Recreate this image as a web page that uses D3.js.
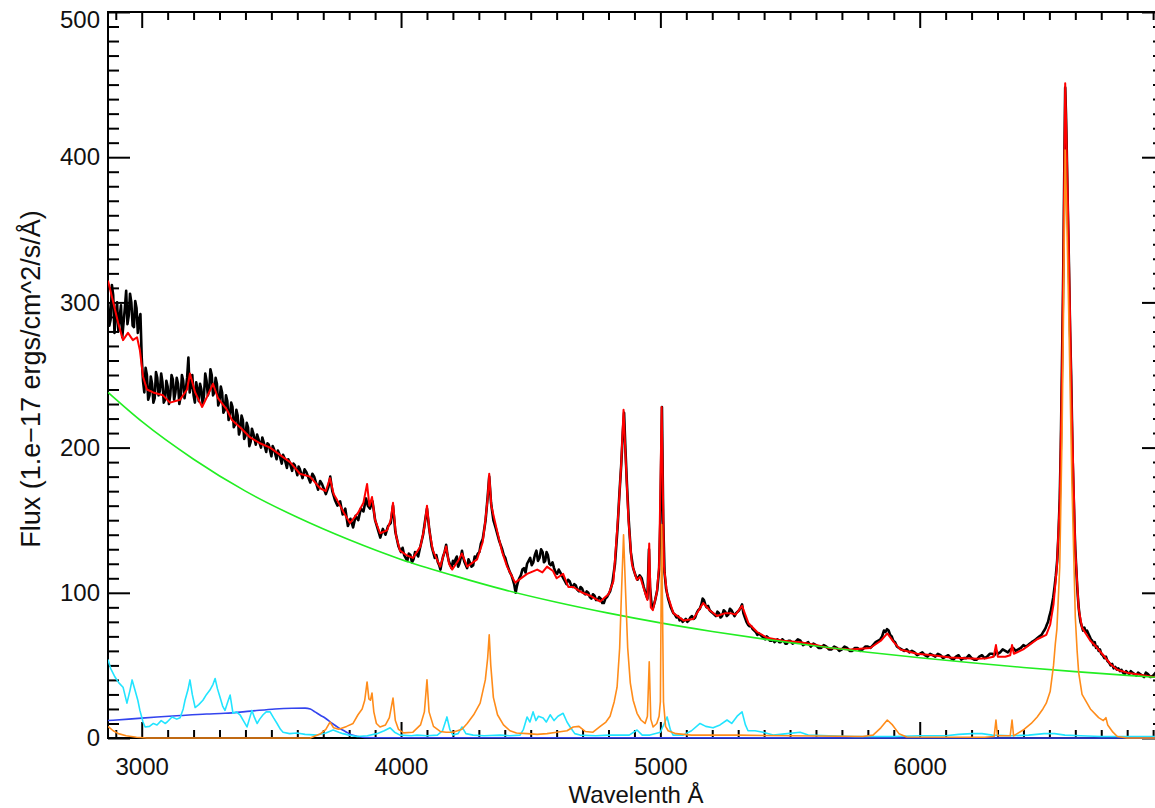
<!DOCTYPE html>
<html><head><meta charset="utf-8">
<script src="https://cdn.jsdelivr.net/npm/d3@7"></script>
<style>
html,body{margin:0;padding:0;background:#fff;}
text{font-family:"Liberation Sans",Arial,Helvetica,sans-serif;fill:#111;}
</style></head>
<body>
<script>
// ---------- data (wavelength Å, flux 1e-17) ----------
const xMajorTicks = [3000, 4000, 5000, 6000];
const yMajorTicks = [0, 100, 200, 300, 400, 500];
const xTitle = "Wavelenth Å";
const yTitle = "Flux (1.e\u221217 ergs/cm^2/s/Å)";

const observed = [[2870,300],[2875,284],[2880,288],[2885,312],[2890,305],[2895,279],[2900,292],[2905,300],[2910,280],[2915,290],[2920,298],[2925,276],[2930,286],[2935,296],[2940,308],[2945,285],[2950,291],[2955,306],[2960,300],[2965,284],[2970,283],[2975,301],[2980,296],[2985,279],[2990,288],[2995,292],[3000,262],[3005,246],[3010,238],[3015,255],[3020,250],[3025,233],[3030,236],[3035,249],[3040,244],[3045,231],[3050,234],[3055,252],[3060,248],[3065,236],[3070,239],[3075,251],[3080,245],[3085,231],[3090,233],[3095,246],[3100,242],[3105,230],[3110,236],[3115,250],[3120,247],[3125,233],[3130,238],[3135,248],[3140,244],[3145,230],[3150,235],[3155,250],[3160,246],[3165,234],[3170,240],[3175,248],[3180,262],[3185,238],[3190,243],[3195,250],[3200,236],[3205,231],[3210,245],[3215,240],[3220,232],[3225,244],[3230,240],[3235,230],[3240,236],[3245,251],[3250,246],[3255,236],[3260,239],[3265,254],[3270,250],[3275,236],[3280,238],[3285,248],[3290,244],[3295,229],[3300,232],[3305,242],[3310,238],[3315,224],[3320,226],[3325,236],[3330,232],[3335,219],[3340,222],[3345,231],[3350,228],[3355,214],[3360,216],[3365,226],[3370,222],[3375,209],[3380,212],[3385,222],[3390,219],[3395,206],[3400,208],[3405,217],[3410,214],[3415,201],[3420,204],[3425,213],[3430,210],[3440,202],[3445,209],[3450,206],[3460,200],[3465,207],[3470,204],[3480,197],[3485,203],[3490,202],[3500,194],[3505,201],[3510,199],[3520,192],[3525,198],[3530,196],[3540,189],[3545,195],[3550,193],[3560,186],[3565,192],[3570,190],[3580,184],[3585,189],[3590,188],[3600,181],[3605,187],[3610,185],[3620,179],[3628,185],[3635,183],[3650,176],[3658,182],[3665,180],[3680,171],[3688,177],[3695,175],[3710,168],[3720,173],[3727,180],[3735,170],[3745,164],[3755,160],[3765,163],[3775,154],[3785,158],[3795,146],[3805,151],[3815,145],[3825,153],[3835,150],[3845,158],[3855,156],[3865,165],[3872,160],[3880,158],[3890,163],[3900,150],[3910,144],[3920,138],[3930,144],[3940,140],[3950,146],[3960,148],[3969,160],[3978,142],[3990,132],[4000,128],[4006,131],[4012,126],[4018,124],[4024,122],[4030,127],[4036,126],[4042,121],[4048,123],[4054,128],[4060,127],[4066,125],[4072,130],[4085,140],[4093,150],[4100,158],[4108,145],[4118,132],[4124,128],[4130,124],[4136,126],[4142,121],[4147,119],[4152,116],[4157,121],[4162,125],[4168,128],[4174,133],[4179,126],[4184,122],[4190,119],[4195,117],[4200,122],[4205,120],[4210,123],[4215,125],[4220,118],[4225,120],[4230,124],[4235,129],[4240,124],[4245,121],[4250,119],[4255,117],[4260,123],[4265,121],[4272,118],[4278,119],[4284,125],[4290,124],[4296,127],[4302,128],[4308,134],[4315,137],[4326,150],[4334,166],[4340,180],[4347,162],[4356,150],[4366,144],[4372,140],[4378,136],[4384,133],[4390,130],[4396,126],[4402,124],[4408,120],[4414,117],[4420,114],[4426,112],[4431,109],[4436,106],[4442,100],[4446,104],[4450,107],[4456,110],[4462,112],[4468,116],[4474,117],[4480,114],[4486,120],[4492,122],[4498,124],[4504,119],[4510,121],[4516,126],[4522,129],[4528,122],[4534,124],[4540,130],[4546,128],[4551,121],[4556,122],[4561,128],[4566,126],[4572,120],[4578,119],[4584,121],[4590,117],[4596,114],[4602,113],[4608,116],[4614,114],[4620,112],[4626,110],[4632,108],[4638,106],[4644,109],[4650,108],[4656,105],[4662,104],[4668,106],[4674,105],[4680,102],[4686,101],[4692,104],[4698,103],[4704,100],[4710,99],[4716,101],[4722,100],[4728,97],[4734,96],[4740,99],[4746,98],[4752,95],[4758,95],[4764,97],[4770,96],[4776,93],[4782,93],[4788,96],[4794,97],[4800,99],[4806,101],[4815,107],[4825,120],[4835,145],[4842,168],[4849,188],[4855,210],[4860,224],[4865,200],[4871,175],[4878,150],[4886,128],[4895,117],[4904,112],[4912,109],[4920,112],[4928,110],[4936,104],[4944,99],[4950,96],[4956,130],[4960,104],[4966,92],[4972,90],[4980,95],[4988,102],[4995,116],[5000,150],[5006,228],[5011,150],[5016,114],[5022,103],[5030,96],[5035,93],[5040,90],[5045,88],[5050,86],[5056,85],[5062,83],[5068,84],[5074,81],[5080,82],[5086,80],[5092,81],[5098,82],[5104,80],[5110,81],[5116,83],[5122,84],[5128,82],[5134,83],[5140,86],[5146,88],[5152,89],[5158,92],[5163,96],[5168,95],[5173,92],[5178,90],[5184,91],[5190,88],[5196,87],[5202,86],[5208,85],[5214,84],[5220,87],[5226,86],[5232,83],[5238,84],[5244,88],[5250,87],[5256,84],[5262,85],[5268,89],[5274,88],[5280,86],[5286,84],[5292,86],[5298,87],[5304,88],[5310,90],[5315,92],[5320,86],[5326,83],[5332,80],[5338,78],[5344,77],[5350,77],[5356,75],[5362,74],[5368,73],[5374,71],[5380,72],[5386,71],[5392,70],[5398,69],[5404,68],[5410,70],[5416,69],[5422,67],[5428,67],[5434,68],[5440,66],[5446,67],[5452,68],[5458,66],[5464,66],[5470,68],[5476,67],[5482,65],[5488,65],[5494,67],[5500,67],[5510,65],[5520,66],[5530,68],[5540,67],[5550,64],[5560,65],[5570,66],[5580,63],[5590,65],[5600,64],[5610,62],[5620,62],[5630,64],[5640,63],[5650,61],[5660,61],[5670,63],[5680,62],[5690,60],[5700,61],[5710,63],[5720,62],[5730,60],[5740,60],[5750,62],[5760,62],[5770,60],[5780,61],[5790,63],[5800,63],[5810,62],[5820,64],[5830,66],[5840,67],[5848,68],[5855,70],[5862,74],[5868,73],[5874,75],[5880,74],[5886,71],[5892,70],[5898,67],[5905,66],[5912,63],[5920,62],[5930,61],[5940,60],[5950,61],[5960,59],[5970,60],[5980,59],[5990,57],[6000,58],[6010,59],[6020,57],[6030,56],[6040,58],[6050,57],[6060,56],[6070,58],[6080,57],[6090,55],[6100,56],[6110,57],[6120,55],[6130,54],[6140,56],[6150,57],[6160,54],[6170,55],[6180,55],[6190,57],[6200,55],[6210,54],[6220,54],[6230,56],[6240,57],[6250,55],[6260,56],[6270,58],[6280,58],[6288,57],[6295,60],[6302,58],[6310,59],[6320,61],[6330,60],[6340,59],[6350,61],[6360,62],[6370,60],[6380,61],[6390,62],[6400,64],[6410,63],[6418,64],[6425,65],[6432,66],[6440,67],[6448,68],[6455,69],[6462,70],[6470,71],[6476,73],[6480,74],[6486,76],[6490,78],[6495,80],[6500,84],[6505,87],[6510,92],[6515,97],[6520,104],[6525,112],[6530,122],[6535,140],[6540,165],[6544,200],[6548,250],[6552,300],[6555,345],[6558,400],[6561,448],[6564,430],[6567,405],[6570,375],[6574,340],[6577,310],[6580,280],[6584,250],[6587,220],[6590,190],[6594,165],[6597,145],[6600,130],[6604,116],[6607,105],[6610,97],[6613,90],[6616,85],[6620,80],[6625,77],[6630,74],[6635,76],[6640,73],[6645,74],[6650,72],[6655,70],[6660,68],[6665,67],[6670,64],[6675,66],[6680,62],[6685,63],[6690,60],[6695,61],[6700,58],[6706,57],[6712,55],[6718,56],[6724,53],[6730,52],[6736,50],[6742,51],[6748,48],[6754,49],[6760,47],[6766,48],[6772,46],[6778,47],[6784,45],[6790,44],[6796,46],[6802,45],[6808,44],[6814,46],[6820,45],[6828,44],[6835,43],[6842,45],[6850,44],[6858,43],[6865,42],[6872,45],[6880,44],[6890,42],[6900,43],[6910,45],[6920,44],[6930,42],[6942,43]];

const model = [[2870,315],[2889,301],[2909,286],[2928,274],[2947,279],[2966,274],[2982,276],[2993,267],[3005,249],[3020,240],[3044,238],[3082,236],[3109,231],[3148,233],[3175,240],[3186,251],[3206,238],[3233,228],[3252,235],[3275,244],[3294,234],[3329,226],[3348,219],[3379,214],[3418,207],[3456,203],[3495,200],[3533,195],[3572,190],[3610,182],[3649,180],[3688,172],[3710,170],[3726,179],[3740,168],[3753,164],[3780,155],[3803,148],[3834,155],[3855,162],[3869,175],[3878,160],[3888,166],[3900,150],[3919,141],[3946,143],[3960,150],[3969,162],[3980,140],[3996,129],[4020,126],[4046,124],[4075,132],[4090,145],[4100,160],[4110,142],[4123,129],[4151,118],[4174,132],[4185,120],[4197,116],[4220,122],[4235,127],[4255,118],[4293,123],[4315,135],[4324,148],[4334,165],[4340,182],[4348,160],[4370,143],[4390,128],[4409,118],[4440,107],[4486,113],[4525,116],[4545,114],[4563,118],[4586,115],[4600,110],[4625,113],[4645,104],[4664,104],[4700,100],[4729,98],[4768,94],[4800,99],[4819,108],[4838,155],[4849,189],[4858,226],[4867,189],[4877,150],[4890,120],[4909,109],[4922,111],[4941,100],[4950,95],[4957,134],[4963,90],[4971,88],[4986,100],[4995,118],[5005,228],[5014,118],[5025,100],[5050,86],[5089,81],[5127,82],[5165,93],[5190,88],[5219,84],[5250,86],[5269,86],[5290,85],[5315,91],[5340,79],[5373,73],[5412,69],[5473,67],[5539,66],[5600,64],[5650,62],[5732,61],[5809,62],[5850,67],[5875,72],[5900,66],[5925,61],[5990,58],[6050,57],[6118,55.5],[6180,55],[6222,54.5],[6260,55],[6285,56],[6294,64],[6301,56],[6330,56],[6349,57],[6356,64],[6363,58],[6399,61],[6453,68],[6488,71],[6503,78],[6516,92],[6529,118],[6540,163],[6549,255],[6555,345],[6561,451],[6567,406],[6574,344],[6587,221],[6600,129],[6613,89],[6626,76],[6658,67],[6680,63],[6708,57],[6735,51],[6762,47],[6800,45],[6850,43.5],[6900,42],[6942,42]];

const powerLaw = [[2870,238],[3000,218],[3200,192],[3400,170],[3600,152],[3800,136.5],[4000,123],[4200,112],[4400,102],[4600,93.5],[4800,86],[5000,79.3],[5200,73.4],[5400,68.1],[5600,63.4],[5800,59.1],[6000,55.3],[6200,51.8],[6400,48.6],[6600,45.7],[6800,43.1],[6942,41.4]];

const balmerCont = [[2870,12],[2950,13],[3059,14.5],[3150,15.5],[3250,16.5],[3321,17],[3420,18.5],[3514,20],[3580,20.5],[3630,20.6],[3650,20],[3668,18],[3690,15.5],[3707,13.8],[3735,10],[3760,7],[3785,4.5],[3811,2],[3835,1],[3860,0.3],[3900,0.2],[6942,0]];

const feII = [[2870,54],[2880,48],[2897,42],[2912,38],[2928,35],[2943,24],[2955,33],[2963,40],[2974,33],[2985,26],[2993,19],[3005,11],[3013,7.6],[3030,8],[3045,10],[3059,9],[3075,12],[3090,10],[3098,11],[3117,14.5],[3135,13],[3148,14],[3160,20],[3167,26],[3178,33],[3186,40],[3195,30],[3206,21],[3220,23],[3236,26],[3250,30],[3263,33],[3275,37],[3283,41],[3292,34],[3302,28],[3312,22],[3321,19],[3332,25],[3341,29.6],[3352,17],[3365,18],[3379,16],[3392,12],[3406,7.6],[3415,13],[3425,19],[3435,14],[3445,10],[3455,13],[3468,16],[3480,18],[3495,18],[3508,14],[3522,10],[3535,6],[3545,4],[3570,3],[3599,3.4],[3630,2.5],[3676,2],[3710,3.5],[3738,5.5],[3760,4],[3776,3],[3800,2],[3830,1],[3870,1.5],[3907,3],[3935,5],[3958,7],[3975,4],[3996,2],[4040,1.5],[4062,2],[4100,1.5],[4140,2],[4160,5],[4177,14.5],[4188,6],[4200,2],[4220,3],[4235,7.6],[4250,3],[4278,2],[4320,1.5],[4382,2],[4420,1.5],[4459,2],[4472,6],[4486,14.5],[4497,11],[4509,18],[4520,12],[4530,15],[4548,13.8],[4560,11],[4575,16],[4590,12],[4605,15],[4625,17],[4640,11],[4652,7.6],[4670,3],[4690,2],[4750,1.5],[4800,2],[4880,2],[4910,5.5],[4930,2],[4960,2],[5000,4],[5015,10],[5026,14.5],[5038,6],[5049,2],[5088,2],[5120,5],[5153,10],[5175,8],[5203,7],[5230,9],[5257,12.4],[5275,10],[5296,15],[5315,18],[5328,9],[5338,5],[5365,5],[5396,4],[5435,2],[5489,3],[5539,4],[5570,2],[5650,1.5],[5750,1],[5900,1],[6000,1.5],[6100,1.5],[6150,2.5],[6200,3],[6240,3],[6280,2],[6350,1.5],[6420,2],[6480,3],[6520,3],[6560,2],[6620,1.5],[6700,1],[6800,1],[6942,1]];

const emissionLines = [[2870,8],[2890,5],[2910,3],[2940,1.5],[2980,0.5],[3020,0],[3650,0],[3690,3],[3710,6],[3726,11],[3740,7],[3760,6],[3790,8],[3815,10],[3834,16],[3850,20],[3860,26],[3869,38.6],[3876,27],[3882,26],[3888,31],[3895,18],[3905,10],[3919,7.6],[3940,9],[3955,14],[3969,27.5],[3978,12],[3990,6],[4010,3.5],[4046,4],[4075,9],[4090,18],[4100,40],[4108,18],[4125,8],[4151,4.5],[4174,4],[4200,4],[4235,6],[4255,10],[4280,16],[4305,24],[4325,40],[4334,55],[4340,71],[4346,50],[4356,28],[4372,16],[4395,9],[4420,5],[4445,3.4],[4486,3],[4525,2.5],[4563,3],[4600,4],[4640,5],[4664,7.6],[4686,8],[4710,4.5],[4740,4],[4768,8],[4790,11],[4806,15],[4822,25],[4833,35],[4843,62],[4850,100],[4858,140],[4866,100],[4874,62],[4884,38],[4895,26],[4910,17],[4925,12.4],[4941,10],[4950,15],[4957,52.5],[4963,13],[4972,7.6],[4986,10],[4995,15],[5000,25],[5005,147],[5012,25],[5020,8],[5030,5],[5060,3],[5120,2],[5300,2],[5500,1.5],[5780,1],[5820,2],[5850,7],[5875,12.4],[5895,9],[5920,3],[5950,0.7],[6250,0.5],[6287,1],[6294,12.4],[6300,1.5],[6349,1.5],[6356,12.4],[6362,1.5],[6399,5.5],[6430,10],[6453,14.5],[6475,20],[6488,24],[6503,32],[6516,50],[6523,65],[6529,75],[6540,118],[6549,210],[6555,300],[6561,405],[6567,360],[6574,298],[6587,175],[6600,83],[6607,60],[6613,45],[6626,30],[6658,20],[6690,14],[6708,12],[6718,14],[6725,9],[6745,4],[6762,1],[6800,0],[6942,0]];

// ---------- layout ----------
const W = 1155, H = 808;
const L = 108, R = 1164, T = 12, B = 738;

const svg = d3.select("body").append("svg").attr("width", W).attr("height", H)
  .style("display","block");
svg.append("rect").attr("width", W).attr("height", H).attr("fill", "#fff");

const x = d3.scaleLinear().domain([2870, 6942]).range([L, R]);
const y = d3.scaleLinear().domain([0, 500]).range([B, T]);

const xMinor = d3.range(2900, 6942, 100).filter(v => v % 1000 !== 0);
const yMinor = d3.range(10, 500, 10).filter(v => v % 100 !== 0);

function styleAxis(g){
  g.select(".domain").remove();
  g.selectAll(".tick line").attr("stroke", "#000").attr("stroke-width", 2);
  g.selectAll("text").style("font-size", "24px").attr("fill", "#111");
}

// bottom
svg.append("g").attr("transform", `translate(0,${B})`)
  .call(d3.axisBottom(x).tickValues(xMajorTicks).tickSize(-16).tickPadding(20).tickFormat(d3.format("d")))
  .call(styleAxis);
svg.append("g").attr("transform", `translate(0,${B})`)
  .call(d3.axisBottom(x).tickValues(xMinor).tickSize(-8).tickFormat(""))
  .call(styleAxis);
// top
svg.append("g").attr("transform", `translate(0,${T})`)
  .call(d3.axisTop(x).tickValues(xMajorTicks).tickSize(-16).tickFormat(""))
  .call(styleAxis);
svg.append("g").attr("transform", `translate(0,${T})`)
  .call(d3.axisTop(x).tickValues(xMinor).tickSize(-8).tickFormat(""))
  .call(styleAxis);
// left
const gl = svg.append("g").attr("transform", `translate(${L},0)`)
  .call(d3.axisLeft(y).tickValues(yMajorTicks).tickSize(-22).tickPadding(8).tickFormat(d3.format("d")))
  .call(styleAxis);
gl.selectAll(".tick").filter(d => d === 500).select("text").attr("dy", "0.65em");
svg.append("g").attr("transform", `translate(${L},0)`)
  .call(d3.axisLeft(y).tickValues(yMinor).tickSize(-11).tickFormat(""))
  .call(styleAxis);
// right
svg.append("g").attr("transform", `translate(${R},0)`)
  .call(d3.axisRight(y).tickValues(yMajorTicks).tickSize(-22).tickFormat(""))
  .call(styleAxis);
svg.append("g").attr("transform", `translate(${R},0)`)
  .call(d3.axisRight(y).tickValues(yMinor).tickSize(-11).tickFormat(""))
  .call(styleAxis);

// frame
svg.append("rect").attr("x", L).attr("y", T).attr("width", R - L).attr("height", B - T)
  .attr("fill", "none").attr("stroke", "#000").attr("stroke-width", 2);

// titles
svg.append("text").attr("x", (L + R) / 2).attr("y", 803).attr("text-anchor", "middle")
  .style("font-size", "24px").text(xTitle);
svg.append("text").attr("transform", `translate(40,${(T + B) / 2 + 4}) rotate(-90)`)
  .attr("text-anchor", "middle").style("font-size", "27px").text(yTitle);

// clip
svg.append("clipPath").attr("id", "clip").append("rect")
  .attr("x", L).attr("y", T - 2).attr("width", R - L).attr("height", B - T + 4);
const plot = svg.append("g").attr("clip-path", "url(#clip)");

const line = d3.line().x(d => x(d[0])).y(d => y(d[1]));
const smooth = d3.line().x(d => x(d[0])).y(d => y(d[1])).curve(d3.curveMonotoneX);

const series = [
  {data: observed, color: "#000000", w: 2.6, gen: line},
  {data: model, color: "#ff0000", w: 2, gen: line},
  {data: powerLaw, color: "#22ee22", w: 1.6, gen: smooth},
  {data: balmerCont, color: "#3344ee", w: 1.6, gen: smooth},
  {data: feII, color: "#22e4ff", w: 1.6, gen: line},
  {data: emissionLines, color: "#ff8c1a", w: 1.6, gen: line}
];
series.forEach(s => {
  plot.append("path").datum(s.data).attr("d", s.gen)
    .attr("fill", "none").attr("stroke", s.color).attr("stroke-width", s.w)
    .attr("stroke-linejoin", "round");
});
</script>
</body></html>
